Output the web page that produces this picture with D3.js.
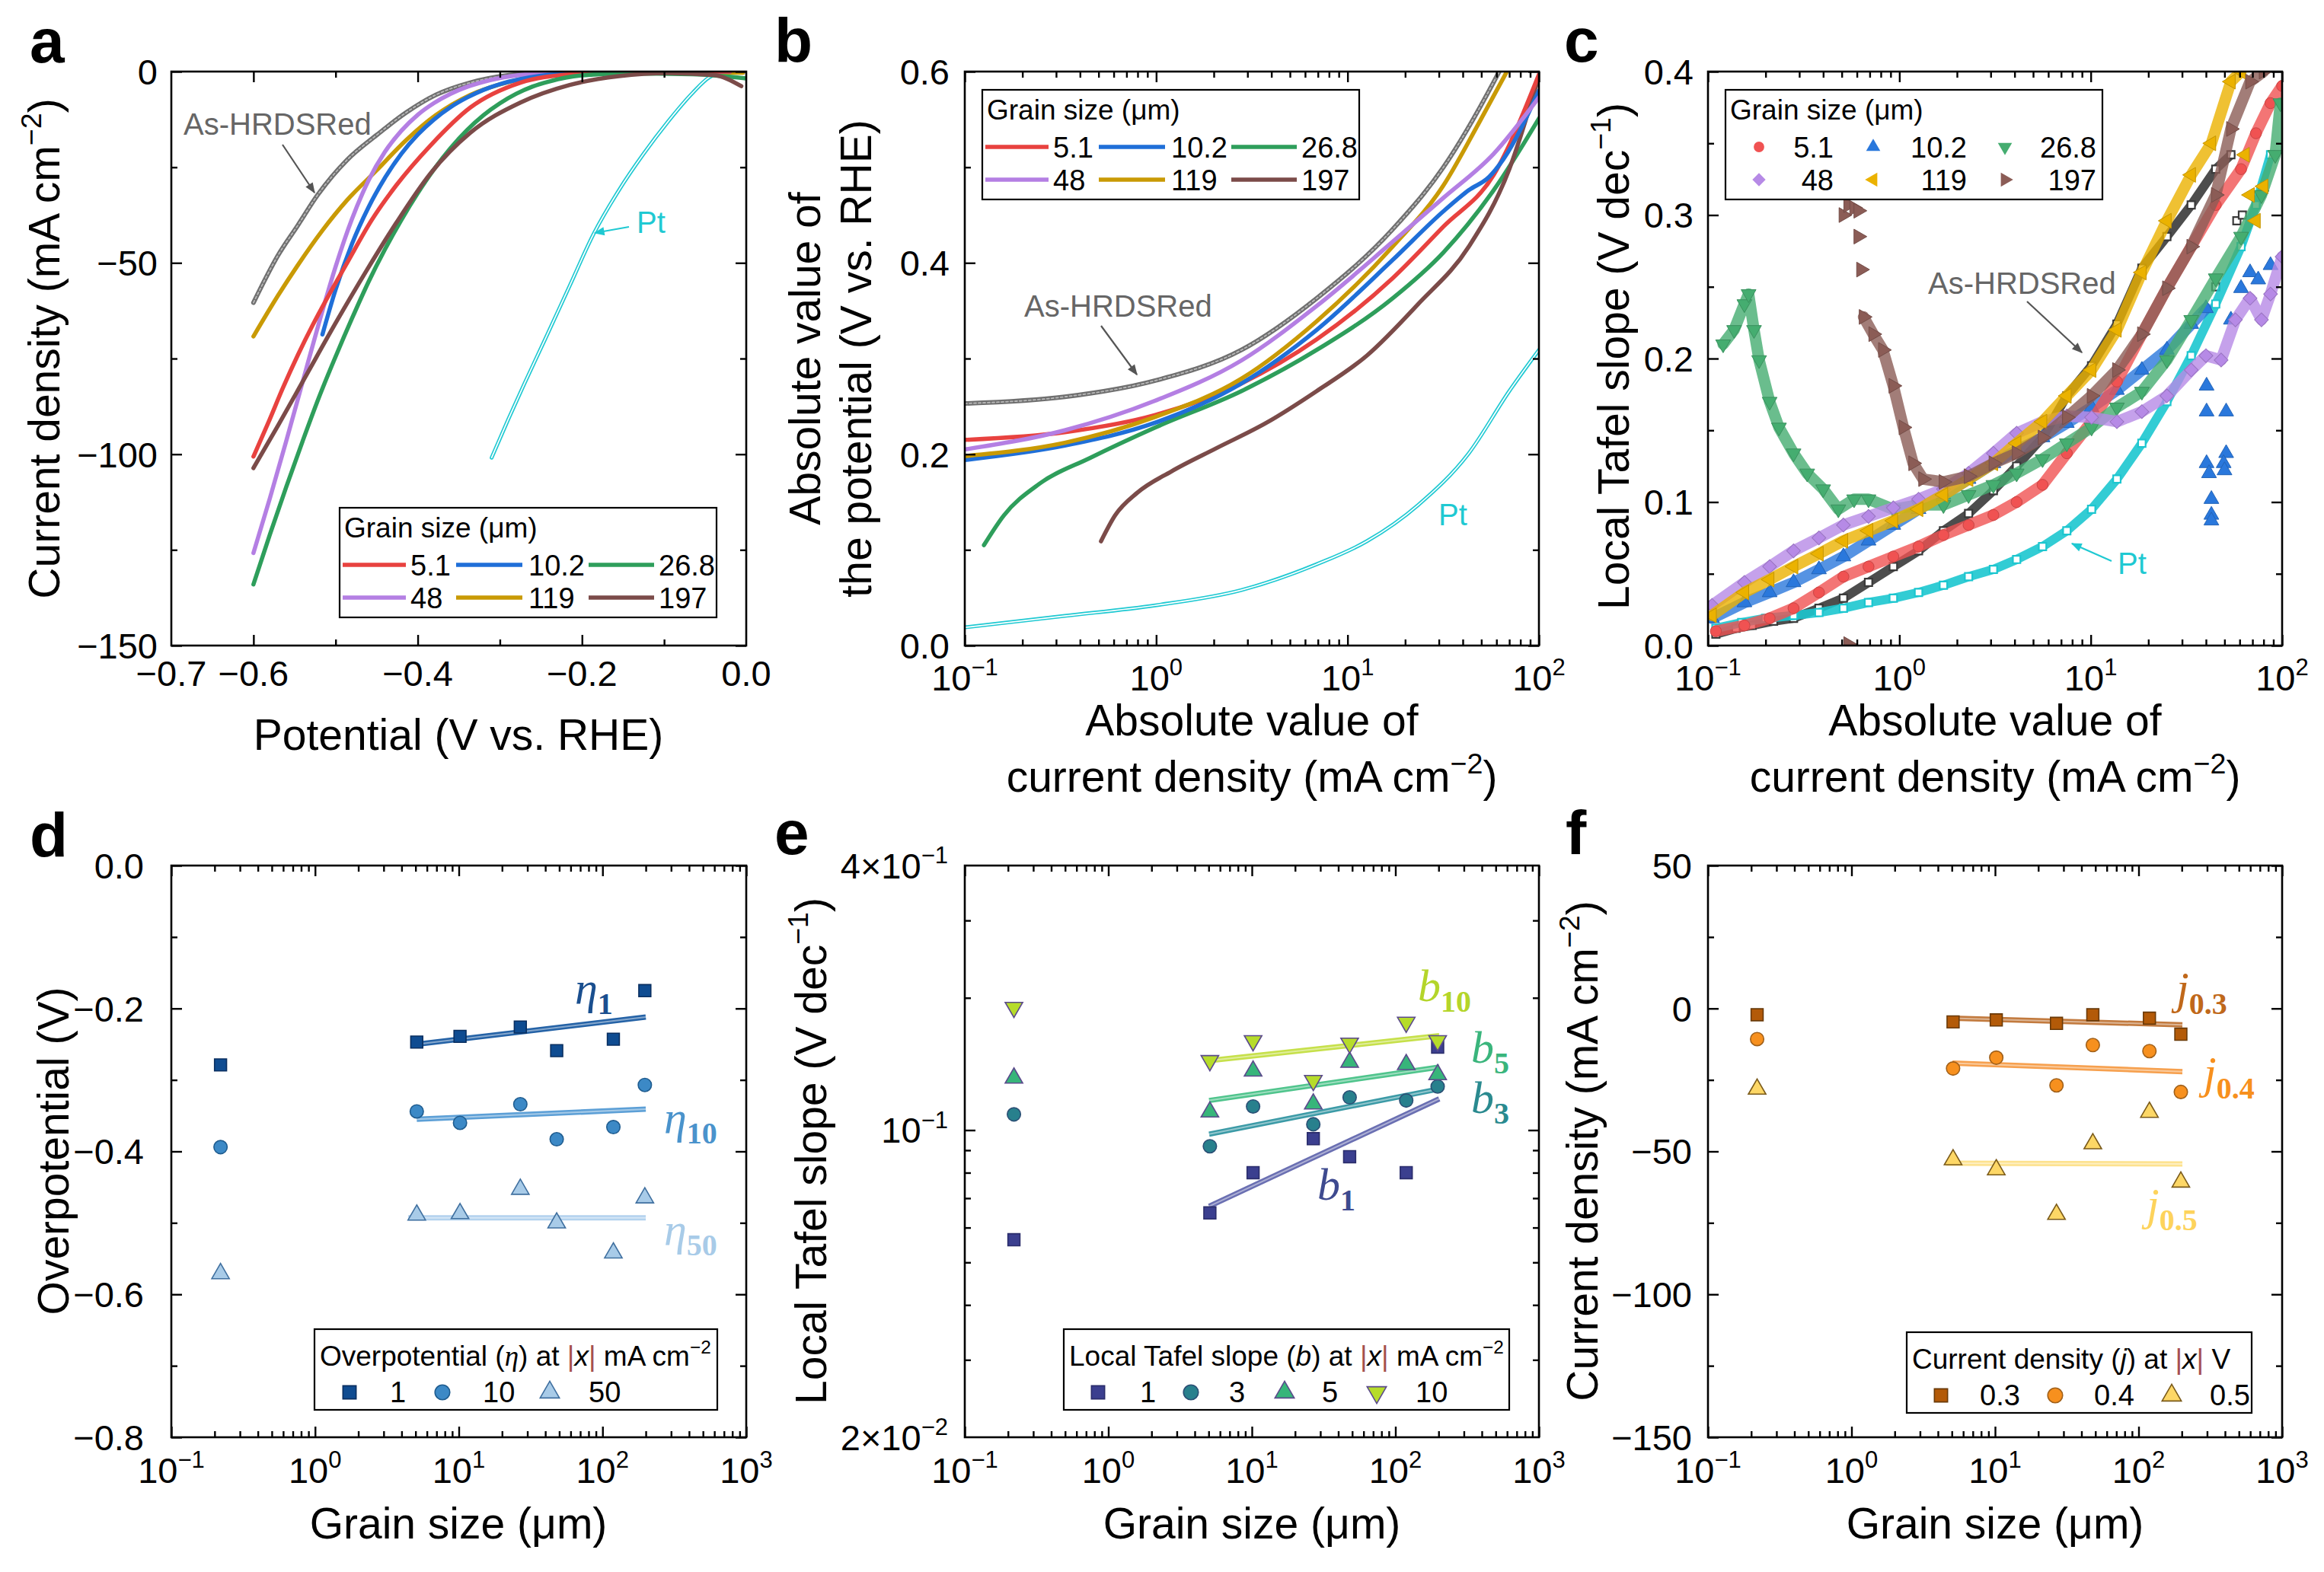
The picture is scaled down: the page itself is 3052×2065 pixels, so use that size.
<!DOCTYPE html>
<html>
<head>
<meta charset="utf-8">
<script src="https://cdn.jsdelivr.net/npm/d3@7"></script>
<style>
  body { margin: 0; background: #fff; }
  svg { display: block; }
</style>
</head>
<body>
<svg id="fig"></svg>
<script>
// ---------------- data ----------------
const grainLabels = ["5.1", "10.2", "26.8", "48", "119", "197"];

// (a) LSV: [potential (V vs. RHE), current density (mA cm-2)]
const lsvAs = [[-0.6,-60.4],[-0.57,-48],[-0.546,-40.2],[-0.522,-32.3],[-0.486,-23.1],[-0.45,-16.6],[-0.414,-10.7],[-0.378,-6.1],[-0.336,-2.9],[-0.287,-0.9],[-0.245,-0.3],[-0.185,0],[-0.05,0]];
const lsv51 = [[-0.6,-100.6],[-0.582,-91.8],[-0.564,-82.6],[-0.546,-74.1],[-0.528,-66.3],[-0.51,-59.1],[-0.486,-50],[-0.456,-38.8],[-0.426,-29.7],[-0.384,-19.2],[-0.336,-9.4],[-0.275,-2.9],[-0.215,-0.7],[-0.155,-0.1],[-0.02,0]];
const lsv102 = [[-0.516,-68.7],[-0.5,-57],[-0.48,-45],[-0.46,-35.5],[-0.44,-27.8],[-0.42,-21.5],[-0.4,-16.5],[-0.38,-12.5],[-0.36,-9.3],[-0.34,-6.8],[-0.32,-4.8],[-0.3,-3.3],[-0.275,-2],[-0.25,-1.1],[-0.215,-0.5],[-0.155,-0.1],[-0.02,0]];
const lsv268 = [[-0.6,-134],[-0.58,-121],[-0.56,-108.5],[-0.54,-96.5],[-0.52,-85],[-0.5,-74.5],[-0.48,-64.5],[-0.46,-55],[-0.44,-46.5],[-0.42,-38.8],[-0.4,-31.8],[-0.38,-25.5],[-0.36,-20],[-0.34,-15.3],[-0.32,-11.4],[-0.3,-8.3],[-0.28,-5.8],[-0.26,-3.9],[-0.24,-2.6],[-0.22,-1.6],[-0.2,-1],[-0.15,-0.5],[-0.065,-0.7],[0,-1.8]];
const lsv48 = [[-0.6,-125.8],[-0.58,-111.5],[-0.56,-96.5],[-0.54,-81],[-0.52,-65.5],[-0.5,-51],[-0.48,-38.5],[-0.46,-28.5],[-0.44,-21],[-0.42,-15.5],[-0.4,-11.3],[-0.38,-8.2],[-0.36,-5.8],[-0.34,-4],[-0.32,-2.7],[-0.3,-1.7],[-0.275,-0.9],[-0.25,-0.4],[-0.215,-0.1],[-0.02,0]];
const lsv119 = [[-0.6,-69.2],[-0.57,-58.5],[-0.546,-50.6],[-0.516,-41.5],[-0.486,-33.6],[-0.45,-25.8],[-0.414,-17.9],[-0.378,-11.4],[-0.336,-6.1],[-0.287,-2.6],[-0.245,-0.9],[-0.185,-0.3],[-0.004,-0.3]];
const lsv197 = [[-0.6,-103.6],[-0.57,-92.5],[-0.534,-78.7],[-0.498,-65],[-0.462,-51.9],[-0.426,-39.5],[-0.384,-26.5],[-0.336,-16],[-0.275,-8.1],[-0.215,-3.5],[-0.155,-1.2],[-0.095,-0.4],[-0.04,-0.9],[-0.006,-3.8]];
const lsvPt = [[-0.31,-100.9],[-0.29,-91],[-0.27,-81.5],[-0.245,-70],[-0.215,-56],[-0.186,-42.5],[-0.155,-31],[-0.125,-21.5],[-0.095,-13],[-0.065,-5.5],[-0.045,-1.5],[-0.03,-0.3],[-0.004,-0.3]];

// (b) Tafel plots: [|j| (mA cm-2), |E| (V vs. RHE)]
const tafAs = [[0.1,0.253],[0.333,0.26],[0.99,0.277],[2.79,0.309],[6.9,0.363],[17.2,0.435],[31.7,0.5],[58,0.589],[62,0.6]];
const taf51 = [[0.1,0.215],[0.333,0.223],[0.99,0.241],[2.79,0.274],[6.9,0.32],[17.2,0.384],[31.7,0.438],[58,0.492],[100,0.597]];
const taf102 = [[0.1,0.194],[0.333,0.209],[0.99,0.233],[2.79,0.274],[6.9,0.33],[17.2,0.403],[31.7,0.454],[43,0.476],[55,0.49],[65,0.508],[100,0.58]];
const taf268 = [[0.126,0.105],[0.16,0.136],[0.245,0.169],[0.45,0.196],[0.99,0.228],[2.79,0.266],[6.9,0.309],[17.2,0.363],[31.7,0.411],[58,0.476],[100,0.551]];
const taf48 = [[0.1,0.205],[0.333,0.225],[0.99,0.256],[2.79,0.298],[6.9,0.355],[17.2,0.422],[31.7,0.468],[58,0.514],[100,0.573]];
const taf119 = [[0.1,0.198],[0.333,0.212],[0.99,0.239],[2.79,0.279],[6.9,0.339],[17.2,0.417],[31.7,0.481],[48.5,0.546],[68,0.6]];
const taf197 = [[0.515,0.109],[0.61,0.136],[0.8,0.16],[1.2,0.182],[2.05,0.206],[3.78,0.233],[6.9,0.266],[12.6,0.303],[23.4,0.357],[43,0.417],[70,0.498],[100,0.595]];
const tafPt = [[0.1,0.019],[0.333,0.031],[0.99,0.042],[2.79,0.058],[6.9,0.085],[12.6,0.109],[23.4,0.147],[43,0.201],[70,0.266],[100,0.309]];

// (c) local Tafel slope: [|j| (mA cm-2), slope (V dec-1)]
const locAs = [[0.11,0.008],[0.14,0.012],[0.17,0.014],[0.22,0.017],[0.28,0.019],[0.38,0.026],[0.51,0.033],[0.69,0.044],[0.93,0.055],[1.26,0.066],[1.7,0.08],[2.3,0.092],[3.1,0.108],[4.1,0.125],[5.6,0.145],[7.5,0.174],[10.1,0.195],[13.7,0.224],[18.5,0.263],[25,0.285],[33.5,0.307],[45,0.332],[54,0.342]];
const locAsExtra = [[45,0.25],[58,0.296],[62,0.3]];
const locPt = [[0.11,0.012],[0.15,0.016],[0.2,0.019],[0.28,0.021],[0.38,0.023],[0.51,0.026],[0.69,0.03],[0.93,0.033],[1.26,0.037],[1.7,0.042],[2.3,0.048],[3.1,0.053],[4.1,0.06],[5.6,0.069],[7.5,0.08],[10.1,0.095],[13.7,0.116],[18.5,0.141],[25,0.17],[33.5,0.202],[45,0.238],[61,0.278],[73,0.307],[87,0.342]];
const loc51 = [[0.11,0.01],[0.155,0.014],[0.21,0.019],[0.28,0.026],[0.38,0.037],[0.51,0.048],[0.69,0.055],[0.93,0.062],[1.26,0.069],[1.7,0.077],[2.3,0.084],[3.1,0.091],[4.1,0.1],[5.6,0.112],[7.5,0.134],[10.1,0.156],[13.7,0.184],[18.5,0.217],[25,0.249],[33.5,0.278],[45,0.307],[61,0.332],[73,0.357],[87,0.378],[100,0.39]];
const loc102 = [[0.105,0.019],[0.155,0.03],[0.21,0.037],[0.28,0.044],[0.38,0.053],[0.51,0.062],[0.69,0.073],[0.93,0.084],[1.26,0.095],[1.7,0.105],[2.3,0.116],[3.1,0.127],[4.1,0.136],[5.6,0.145],[7.5,0.155],[10.1,0.166],[13.7,0.178],[18.5,0.192],[25,0.206],[33.5,0.224],[40,0.235]];
const loc102Extra = [[40.3,0.181],[40.3,0.163],[40.3,0.127],[41.5,0.12],[42.7,0.102],[42.7,0.091],[42.7,0.087],[51,0.163],[51,0.134],[49.5,0.127],[50,0.122],[54,0.227],[61,0.249],[68,0.26],[75,0.255],[87,0.265]];
const loc268 = [[0.12,0.21],[0.137,0.22],[0.155,0.238],[0.163,0.245],[0.174,0.22],[0.185,0.199],[0.21,0.17],[0.235,0.152],[0.28,0.134],[0.33,0.12],[0.4,0.109],[0.48,0.095],[0.58,0.102],[0.69,0.102],[0.93,0.095],[1.26,0.098],[1.7,0.098],[2.3,0.105],[3.1,0.112],[4.1,0.12],[5.6,0.13],[7.5,0.141],[10.1,0.152],[13.7,0.166],[18.5,0.177],[25,0.199],[33.5,0.227],[45,0.256],[61,0.285],[78,0.314],[92,0.342],[98,0.378]];
const loc48 = [[0.105,0.028],[0.155,0.044],[0.21,0.055],[0.28,0.066],[0.38,0.075],[0.51,0.084],[0.69,0.09],[0.93,0.096],[1.26,0.102],[1.7,0.109],[2.3,0.12],[3.1,0.134],[4.1,0.148],[5.6,0.156],[7.5,0.16],[10.1,0.159],[13.7,0.156],[18.5,0.163],[25,0.174],[33.5,0.192],[40,0.202],[48,0.199],[57,0.227],[68,0.242],[78,0.227],[87,0.245],[100,0.271]];
const loc119 = [[0.105,0.021],[0.155,0.037],[0.21,0.046],[0.28,0.055],[0.38,0.064],[0.51,0.073],[0.69,0.08],[0.93,0.087],[1.26,0.095],[1.7,0.105],[2.3,0.116],[3.1,0.127],[4.1,0.141],[5.6,0.156],[7.5,0.174],[10.1,0.192],[13.7,0.22],[18.5,0.26],[25,0.296],[33.5,0.328],[42.7,0.35],[54,0.393],[61,0.4]];
const loc119Extra = [[64,0.342],[68,0.314],[73,0.296],[80,0.32]];
const loc197 = [[0.65,0.229],[0.73,0.217],[0.82,0.206],[0.93,0.181],[1.05,0.152],[1.18,0.127],[1.33,0.116],[1.7,0.114],[2.3,0.118],[3.1,0.127],[4.1,0.134],[5.6,0.145],[7.5,0.159],[10.1,0.174],[13.7,0.192],[18.5,0.217],[25,0.249],[33.5,0.278],[45,0.314],[54,0.36],[68,0.393],[80,0.4]];
const loc197Extra = [[0.51,0.3],[0.54,0.307],[0.58,0.305],[0.61,0.303],[0.61,0.285],[0.63,0.262],[0.54,0.001]];

// (d)-(f): first entry is As-HRDSRed
const grainSize = [0.22, 5.1, 10.2, 26.8, 48, 119, 197];
const eta1  = [-0.279, -0.247, -0.239, -0.226, -0.259, -0.243, -0.175];
const eta10 = [-0.394, -0.344, -0.360, -0.334, -0.383, -0.366, -0.307];
const eta50 = [-0.571, -0.489, -0.487, -0.453, -0.500, -0.542, -0.465];
const etaFit1  = [[5.1, -0.250], [200, -0.212]];
const etaFit10 = [[5.1, -0.355], [200, -0.341]];
const etaFit50 = [[4.45, -0.493], [200, -0.493]];

const slope1  = [0.0563, 0.0648, 0.0800, 0.0956, 0.0870, 0.0800, 0.1544];
const slope3  = [0.1086, 0.0919, 0.1132, 0.1031, 0.1187, 0.1168, 0.1257];
const slope5  = [0.1314, 0.1100, 0.1363, 0.1147, 0.1428, 0.1410, 0.1338];
const slope10 = [0.1902, 0.1439, 0.1597, 0.1297, 0.1577, 0.1759, 0.1597];
const slopeFit1  = [[5.04, 0.0671], [202, 0.1178]];
const slopeFit3  = [[5.04, 0.0979], [202, 0.1241]];
const slopeFit5  = [[5.04, 0.1168], [202, 0.1391]];
const slopeFit10 = [[5.04, 0.1439], [202, 0.1640]];

const jAt03 = [-2.2, -4.7, -4.0, -5.2, -2.2, -3.4, -9.0];
const jAt04 = [-10.7, -21.0, -17.2, -26.9, -12.8, -14.9, -29.2];
const jAt05 = [-28.2, -52.9, -56.4, -72.0, -47.3, -36.3, -60.7];
const jFit03 = [[5.05, -3.4], [202, -5.7]];
const jFit04 = [[5.05, -19.1], [202, -22.1]];
const jFit05 = [[4.55, -54.1], [202, -54.4]];

// axis ticks
const aXLabels = [-0.7, -0.6, -0.4, -0.2, 0];
const aXMajor = [-0.6, -0.4, -0.2];
const aXMinor = [-0.5, -0.3, -0.1];
const aYLabels = [0, -50, -100, -150];
const aYMinor = [-25, -75, -125];
const bYLabels = [0, 0.2, 0.4, 0.6];
const bYMinor = [0.1, 0.3, 0.5];
const cYLabels = [0, 0.1, 0.2, 0.3, 0.4];
const cYMinor = [0.05, 0.15, 0.25, 0.35];
const dYLabels = [0, -0.2, -0.4, -0.6, -0.8];
const dYMinor = [-0.1, -0.3, -0.5, -0.7];
const eYLabels = [0.02, 0.1, 0.4];
const eYMinor = [0.03, 0.04, 0.05, 0.06, 0.07, 0.08, 0.09, 0.2, 0.3];
const fYLabels = [50, 0, -50, -100, -150];
const fYMinor = [25, -25, -75, -125];

// ---------------- drawing ----------------
const SANS = "'Liberation Sans', Arial, Helvetica, sans-serif";
const SERIF = "'Liberation Serif', 'DejaVu Serif', serif";
const TICK_FS = 47, TITLE_FS = 57, LEG_FS = 37;

const C = {
  red: "#e8423f", blue: "#1f6fd8", green: "#2e9e5b", purple: "#b47fe3",
  gold: "#c99a05", brown: "#7b4b49", gray: "#6f6f6f", cyan: "#1fc9d2"
};

const svg = d3.select("#fig").attr("width", 3052).attr("height", 2065).attr("font-family", SANS);
svg.append("rect").attr("width", 3052).attr("height", 2065).attr("fill", "#fff");
const defs = svg.append("defs");
[["arrGray", "#555"], ["arrCyan", C.cyan]].forEach(([id, c]) => {
  defs.append("marker").attr("id", id).attr("viewBox", "0 0 10 10")
    .attr("refX", 9).attr("refY", 5).attr("markerWidth", 17).attr("markerHeight", 14)
    .attr("markerUnits", "userSpaceOnUse").attr("orient", "auto")
    .append("path").attr("d", "M0,1 L10,5 L0,9 z").attr("fill", c);
});

const cols = [[225, 980], [1267, 2021], [2243, 2997]];
const rows = [[94, 848], [1137, 1888]];
const minus = s => String(s).replace(/-/g, "\u2212");

function rich(text, parts, fs) {
  let shift = 0;
  parts.forEach(p => {
    const ts = text.append("tspan").text(p.t);
    const target = p.sup ? -0.42 * fs : p.sub ? 0.24 * fs : 0;
    if (target !== shift) ts.attr("dy", target - shift);
    shift = target;
    if (p.size) ts.attr("font-size", p.size);
    else if (p.sup || p.sub) ts.attr("font-size", 0.66 * fs);
    if (p.it) ts.attr("font-style", "italic");
    if (p.fill) ts.attr("fill", p.fill);
    if (p.fam) ts.attr("font-family", p.fam);
    if (p.bold) ts.attr("font-weight", "bold");
  });
  return text;
}

function makePanel(id, col, row, x, y) {
  const [x0, x1] = cols[col], [y0, y1] = rows[row];
  x.range([x0, x1]);
  y.range([y1, y0]);
  const g = svg.append("g");
  defs.append("clipPath").attr("id", "clip-" + id).append("rect")
    .attr("x", x0).attr("y", y0).attr("width", x1 - x0).attr("height", y1 - y0);
  const plot = g.append("g").attr("clip-path", `url(#clip-${id})`);
  return { x, y, g, plot, x0, x1, y0, y1 };
}

function frame(p, xMaj, xMin, yMaj, yMin) {
  const put = (axis, tr) => p.g.append("g").attr("transform", tr).call(axis)
    .call(s => {
      s.select(".domain").remove();
      s.selectAll("line").attr("stroke", "#000").attr("stroke-width", 2.4);
    });
  [[xMaj, 14], [xMin, 8]].forEach(([v, L]) => {
    put(d3.axisBottom(p.x).tickValues(v).tickSize(-L).tickFormat(""), `translate(0,${p.y1})`);
    put(d3.axisTop(p.x).tickValues(v).tickSize(-L).tickFormat(""), `translate(0,${p.y0})`);
  });
  [[yMaj, 14], [yMin, 8]].forEach(([v, L]) => {
    put(d3.axisLeft(p.y).tickValues(v).tickSize(-L).tickFormat(""), `translate(${p.x0},0)`);
    put(d3.axisRight(p.y).tickValues(v).tickSize(-L).tickFormat(""), `translate(${p.x1},0)`);
  });
  p.g.append("rect").attr("x", p.x0).attr("y", p.y0)
    .attr("width", p.x1 - p.x0).attr("height", p.y1 - p.y0)
    .attr("fill", "none").attr("stroke", "#000").attr("stroke-width", 2.6);
}

const fmtLin = d => v => [{ t: minus(d3.format(d)(v)) }];
const fmtLog = v => {
  const e = Math.floor(Math.log10(v) + 1e-9);
  const m = Math.round(v / Math.pow(10, e));
  return [{ t: (m === 1 ? "" : m + "\u00d7") + "10" }, { t: minus(e), sup: true }];
};
function xTickLabels(p, vals, fmt, dy) {
  vals.forEach(v => rich(p.g.append("text").attr("x", p.x(v)).attr("y", p.y1 + dy)
    .attr("text-anchor", "middle").attr("font-size", TICK_FS), fmt(v), TICK_FS));
}
function yTickLabels(p, vals, fmt, gap) {
  vals.forEach(v => rich(p.g.append("text").attr("x", p.x0 - gap).attr("y", p.y(v) + 0.36 * TICK_FS)
    .attr("text-anchor", "end").attr("font-size", TICK_FS), fmt(v), TICK_FS));
}
function logTicks(lo, hi) {
  const maj = [], min = [];
  for (let e = lo; e <= hi; e++) {
    maj.push(Math.pow(10, e));
    if (e < hi) for (let k = 2; k < 10; k++) min.push(k * Math.pow(10, e));
  }
  return [maj, min];
}
function yTitle(x, yc, lines) {
  lines.forEach((parts, i) => rich(svg.append("text")
    .attr("transform", `translate(${x[i]},${yc}) rotate(-90)`)
    .attr("text-anchor", "middle").attr("font-size", TITLE_FS), parts, TITLE_FS));
}
function xTitle(xc, ys, lines) {
  lines.forEach((parts, i) => rich(svg.append("text").attr("x", xc).attr("y", ys[i])
    .attr("text-anchor", "middle").attr("font-size", TITLE_FS), parts, TITLE_FS));
}
function panelLetter(t, x, y) {
  svg.append("text").attr("x", x).attr("y", y).attr("font-size", 82)
    .attr("font-weight", "bold").text(t);
}
function note(t, x, y, color) {
  svg.append("text").attr("x", x).attr("y", y).attr("font-size", 40).attr("fill", color).text(t);
}
function arrow(x1, y1, x2, y2, color, id) {
  svg.append("line").attr("x1", x1).attr("y1", y1).attr("x2", x2).attr("y2", y2)
    .attr("stroke", color).attr("stroke-width", 2.2).attr("marker-end", `url(#${id})`);
}

// curves for (a) and (b)
function curve(p, data, color, kind) {
  const line = d3.line().x(d => p.x(d[0])).y(d => p.y(d[1])).curve(d3.curveMonotoneX);
  const path = (c, w) => p.plot.append("path").datum(data).attr("d", line)
    .attr("fill", "none").attr("stroke", c).attr("stroke-width", w)
    .attr("stroke-linejoin", "round").attr("stroke-linecap", "round");
  if (kind === "pt") { path(color, 5); path("#fff", 1.7); }
  else if (kind === "as") { path(color, 6); path("#b9b9b9", 1.8).attr("stroke-dasharray", "3 3"); }
  else path(color, 5.5);
}

// marker shapes
const SHAPES = {
  square: [d3.symbolSquare, 0], circle: [d3.symbolCircle, 0], up: [d3.symbolTriangle, 0],
  down: [d3.symbolTriangle, 180], left: [d3.symbolTriangle, -90], right: [d3.symbolTriangle, 90],
  diamond: [d3.symbolSquare, 45]
};
function mark(sel, shape, size, x, y) {
  const [t, rot] = SHAPES[shape];
  return sel.append("path").attr("d", d3.symbol(t, size)())
    .attr("transform", `translate(${x},${y}) rotate(${rot})`);
}

// ======== (a) ========
const pa = makePanel("a", 0, 0, d3.scaleLinear().domain([-0.7, 0]), d3.scaleLinear().domain([-150, 0]));
curve(pa, lsvAs, C.gray, "as");
curve(pa, lsvPt, C.cyan, "pt");
curve(pa, lsv119, C.gold);
curve(pa, lsv48, C.purple);
curve(pa, lsv102, C.blue);
curve(pa, lsv51, C.red);
curve(pa, lsv268, C.green);
curve(pa, lsv197, C.brown);
frame(pa, aXMajor, aXMinor, aYLabels, aYMinor);
xTickLabels(pa, aXLabels, fmtLin(".1f"), 53);
yTickLabels(pa, aYLabels, fmtLin("d"), 18);
xTitle(602, [985], [[{ t: "Potential (V vs. RHE)" }]]);
yTitle([78], 458, [[{ t: "Current density (mA cm" }, { t: "\u22122", sup: true }, { t: ")" }]]);
note("As-HRDSRed", 241, 177, "#666");
arrow(371, 190, 413, 253, "#555", "arrGray");
note("Pt", 836, 306, C.cyan);
arrow(826, 298, 781, 306, C.cyan, "arrCyan");

function lineLegend(x0, y0, colors) {
  const g = svg.append("g");
  g.append("rect").attr("x", x0).attr("y", y0).attr("width", 495).attr("height", 144)
    .attr("fill", "#fff").attr("stroke", "#000").attr("stroke-width", 2.2);
  g.append("text").attr("x", x0 + 6).attr("y", y0 + 39).attr("font-size", LEG_FS).text("Grain size (\u03bcm)");
  const cx = [[4, 87, 93], [153, 240, 248], [327, 413, 419]];
  grainLabels.forEach((lab, i) => {
    const r = Math.floor(i / 3), c = i % 3, yy = y0 + 75 + r * 43;
    g.append("line").attr("x1", x0 + cx[c][0]).attr("x2", x0 + cx[c][1]).attr("y1", yy).attr("y2", yy)
      .attr("stroke", colors[i]).attr("stroke-width", 5.5);
    g.append("text").attr("x", x0 + cx[c][2]).attr("y", yy + 14).attr("font-size", 38).text(lab);
  });
}
const lineColors = [C.red, C.blue, C.green, C.purple, C.gold, C.brown];
lineLegend(446, 667, lineColors);

// ======== (b) ========
const pb = makePanel("b", 1, 0, d3.scaleLog().domain([0.1, 100]), d3.scaleLinear().domain([0, 0.6]));
curve(pb, tafPt, C.cyan, "pt");
curve(pb, tafAs, C.gray, "as");
curve(pb, taf268, C.green);
curve(pb, taf197, C.brown);
curve(pb, taf51, C.red);
curve(pb, taf102, C.blue);
curve(pb, taf119, C.gold);
curve(pb, taf48, C.purple);
const [bMaj, bMin] = logTicks(-1, 2);
frame(pb, bMaj, bMin, bYLabels, bYMinor);
xTickLabels(pb, bMaj, fmtLog, 59);
yTickLabels(pb, bYLabels, fmtLin(".1f"), 20);
const twoLineX = [[{ t: "Absolute value of" }], [{ t: "current density (mA cm" }, { t: "\u22122", sup: true }, { t: ")" }]];
xTitle(1644, [966, 1040], twoLineX);
yTitle([1077, 1144], 471, [[{ t: "Absolute value of" }], [{ t: "the potential (V vs. RHE)" }]]);
note("As-HRDSRed", 1345, 416, "#666");
arrow(1446, 428, 1493, 492, "#555", "arrGray");
note("Pt", 1889, 690, C.cyan);
lineLegend(1290, 118, lineColors);

// ======== (c) ========
const pc = makePanel("c", 2, 0, d3.scaleLog().domain([0.1, 100]), d3.scaleLinear().domain([0, 0.4]));
const CC = { red: "#f05252", blue: "#2a78dc", green: "#45ad70", purple: "#b68ae6", gold: "#ebb200", brown: "#8b5c56", as: "#3a3a3a", pt: "#1cc6cf" };
function slopeSeries(p, main, extra, color, shape, hollow) {
  const line = d3.line().x(d => p.x(d[0])).y(d => p.y(d[1]));
  p.plot.append("path").datum(main).attr("d", line).attr("fill", "none")
    .attr("stroke", color).attr("stroke-opacity", hollow ? 0.9 : 0.8).attr("stroke-width", hollow ? 12 : 15)
    .attr("stroke-linejoin", "round").attr("stroke-linecap", "round");
  const g = p.plot.append("g");
  main.concat(extra).forEach(d => {
    mark(g, shape, hollow ? 95 : 165, p.x(d[0]), p.y(d[1]))
      .attr("fill", hollow ? "#fff" : color)
      .attr("stroke", hollow ? color : d3.color(color).darker(0.5))
      .attr("stroke-width", hollow ? 2.2 : 1);
  });
}
slopeSeries(pc, locAs, locAsExtra, CC.as, "square", true);
slopeSeries(pc, locPt, [], CC.pt, "square", true);
slopeSeries(pc, loc102, loc102Extra, CC.blue, "up");
slopeSeries(pc, loc51, [], CC.red, "circle");
slopeSeries(pc, loc268, [], CC.green, "down");
slopeSeries(pc, loc48, [], CC.purple, "diamond");
slopeSeries(pc, loc119, loc119Extra, CC.gold, "left");
slopeSeries(pc, loc197, loc197Extra, CC.brown, "right");
frame(pc, bMaj, bMin, cYLabels, cYMinor);
xTickLabels(pc, bMaj, fmtLog, 59);
yTickLabels(pc, cYLabels, fmtLin(".1f"), 19);
xTitle(2620, [966, 1040], twoLineX);
yTitle([2139], 468, [[{ t: "Local Tafel slope (V dec" }, { t: "\u22121", sup: true }, { t: ")" }]]);
note("As-HRDSRed", 2532, 386, "#666");
arrow(2662, 396, 2734, 463, "#555", "arrGray");
note("Pt", 2781, 754, C.cyan);
arrow(2773, 737, 2721, 714, C.cyan, "arrCyan");
(function () {
  const x0 = 2266, y0 = 118, g = svg.append("g");
  g.append("rect").attr("x", x0).attr("y", y0).attr("width", 495).attr("height", 144)
    .attr("fill", "#fff").attr("stroke", "#000").attr("stroke-width", 2.2);
  g.append("text").attr("x", x0 + 6).attr("y", y0 + 39).attr("font-size", LEG_FS).text("Grain size (\u03bcm)");
  const shapes = ["circle", "up", "down", "diamond", "left", "right"];
  const colors = [CC.red, CC.blue, CC.green, CC.purple, CC.gold, CC.brown];
  const mx = [44, 194, 367], lx = [142, 317, 487];
  grainLabels.forEach((lab, i) => {
    const r = Math.floor(i / 3), c = i % 3, yy = y0 + 75 + r * 43;
    mark(g, shapes[i], 150, x0 + mx[c], yy).attr("fill", colors[i]);
    g.append("text").attr("x", x0 + lx[c]).attr("y", yy + 14).attr("text-anchor", "end")
      .attr("font-size", 38).text(lab);
  });
})();

// ======== (d)-(f) helpers ========
function points(p, ys, shape, size, fill, stroke) {
  const g = p.plot.append("g");
  grainSize.forEach((gs, i) => mark(g, shape, size, p.x(gs), p.y(ys[i]))
    .attr("fill", fill).attr("stroke", stroke).attr("stroke-width", 1.6));
}
function fit(p, pts, color) {
  const line = d3.line().x(d => p.x(d[0])).y(d => p.y(d[1]));
  p.plot.append("path").datum(pts).attr("d", line).attr("stroke", color).attr("stroke-width", 7).attr("fill", "none");
  p.plot.append("path").datum(pts).attr("d", line).attr("stroke", "#fff").attr("stroke-opacity", 0.45)
    .attr("stroke-width", 2).attr("fill", "none");
}
function subLabel(x, y, sym, sub, color) {
  rich(svg.append("text").attr("x", x).attr("y", y).attr("font-size", 60).attr("fill", color)
    .attr("font-family", SERIF),
    [{ t: sym, it: true }, { t: sub, sub: true, bold: true, size: 40 }], 60);
}
function markLegend(x0, y0, w, title, items) {
  const g = svg.append("g");
  g.append("rect").attr("x", x0).attr("y", y0).attr("width", w).attr("height", 106)
    .attr("fill", "#fff").attr("stroke", "#000").attr("stroke-width", 2.2);
  rich(g.append("text").attr("x", x0 + 7).attr("y", y0 + 48).attr("font-size", LEG_FS), title, LEG_FS);
  items.forEach(it => {
    mark(g, it.shape, it.size, it.mx, y0 + 83).attr("fill", it.fill).attr("stroke", it.stroke).attr("stroke-width", 1.6);
    g.append("text").attr("x", it.lx).attr("y", y0 + 96).attr("font-size", 38).text(it.label);
  });
}
const bar = { t: "|", fill: "#a5504f" };
const [gMaj, gMin] = logTicks(-1, 3);

// ======== (d) ========
const pd = makePanel("d", 0, 1, d3.scaleLog().domain([0.1, 1000]), d3.scaleLinear().domain([-0.8, 0]));
const D = { c1: "#0f4c91", s1: "#0a2f60", c10: "#3c89c6", s10: "#1f5c8f", c50: "#a8cbe8", s50: "#3f6f9f" };
fit(pd, etaFit1, "#2462a6");
fit(pd, etaFit10, "#5c9fd6");
fit(pd, etaFit50, "#b3d2ee");
points(pd, eta1, "square", 250, D.c1, D.s1);
points(pd, eta10, "circle", 240, D.c10, D.s10);
points(pd, eta50, "up", 230, D.c50, D.s50);
frame(pd, gMaj, gMin, dYLabels, dYMinor);
xTickLabels(pd, gMaj, fmtLog, 60);
yTickLabels(pd, dYLabels, fmtLin(".1f"), 36);
xTitle(602, [2021], [[{ t: "Grain size (\u03bcm)" }]]);
yTitle([90], 1512, [[{ t: "Overpotential (V)" }]]);
subLabel(755, 1318, "\u03b7", "1", "#1a4f8f");
subLabel(872, 1488, "\u03b7", "10", "#4a93cc");
subLabel(872, 1635, "\u03b7", "50", "#a8cbe8");
markLegend(413, 1746, 529,
  [{ t: "Overpotential (" }, { t: "\u03b7", it: true, fam: SERIF }, { t: ") at " }, bar, { t: "x", it: true }, bar,
   { t: " mA cm" }, { t: "\u22122", sup: true }],
  [{ shape: "square", size: 300, fill: D.c1, stroke: D.s1, mx: 459, lx: 512, label: "1" },
   { shape: "circle", size: 300, fill: D.c10, stroke: D.s10, mx: 581, lx: 634, label: "10" },
   { shape: "up", size: 280, fill: D.c50, stroke: D.s50, mx: 722, lx: 773, label: "50" }]);

// ======== (e) ========
const pe = makePanel("e", 1, 1, d3.scaleLog().domain([0.1, 1000]), d3.scaleLog().domain([0.02, 0.4]));
const E = { c1: "#3b3f8f", c3: "#28808d", c5: "#37b57a", c10: "#b6dc2a", st: "#5b4a8c" };
fit(pe, slopeFit1, "#6a6fb2");
fit(pe, slopeFit3, "#3b9aa6");
fit(pe, slopeFit5, "#4fc48c");
fit(pe, slopeFit10, "#c6e04a");
points(pe, slope1, "square", 250, E.c1, "#2b2d6b");
points(pe, slope3, "circle", 240, E.c3, "#2b4f75");
points(pe, slope5, "up", 230, E.c5, E.st);
points(pe, slope10, "down", 230, E.c10, E.st);
frame(pe, gMaj, gMin, [0.1], eYMinor);
xTickLabels(pe, gMaj, fmtLog, 60);
yTickLabels(pe, eYLabels, fmtLog, 22);
xTitle(1644, [2021], [[{ t: "Grain size (\u03bcm)" }]]);
yTitle([1085], 1512, [[{ t: "Local Tafel slope (V dec" }, { t: "\u22121", sup: true }, { t: ")" }]]);
subLabel(1862, 1315, "b", "10", "#b4d52a");
subLabel(1932, 1396, "b", "5", "#3ab57c");
subLabel(1932, 1462, "b", "3", "#2a8a8f");
subLabel(1730, 1576, "b", "1", "#3e4a8f");
markLegend(1397, 1746, 585,
  [{ t: "Local Tafel slope (" }, { t: "b", it: true }, { t: ") at " }, bar, { t: "x", it: true }, bar,
   { t: " mA cm" }, { t: "\u22122", sup: true }],
  [{ shape: "square", size: 300, fill: E.c1, stroke: "#2b2d6b", mx: 1442, lx: 1497, label: "1" },
   { shape: "circle", size: 300, fill: E.c3, stroke: "#2b4f75", mx: 1564, lx: 1614, label: "3" },
   { shape: "up", size: 280, fill: E.c5, stroke: E.st, mx: 1687, lx: 1736, label: "5" },
   { shape: "down", size: 280, fill: E.c10, stroke: E.st, mx: 1808, lx: 1859, label: "10" }]);

// ======== (f) ========
const pf = makePanel("f", 2, 1, d3.scaleLog().domain([0.1, 1000]), d3.scaleLinear().domain([-150, 50]));
const Fc = { c3: "#b35a08", c4: "#f7901e", c5: "#fdd766", st: "#6a3a08" };
fit(pf, jFit03, "#c27a3e");
fit(pf, jFit04, "#f6a04e");
fit(pf, jFit05, "#fde28e");
points(pf, jAt03, "square", 250, Fc.c3, Fc.st);
points(pf, jAt04, "circle", 240, Fc.c4, "#a0601a");
points(pf, jAt05, "up", 230, Fc.c5, "#7a5a1a");
frame(pf, gMaj, gMin, fYLabels, fYMinor);
xTickLabels(pf, gMaj, fmtLog, 60);
yTickLabels(pf, fYLabels, fmtLin("d"), 21);
xTitle(2620, [2021], [[{ t: "Grain size (\u03bcm)" }]]);
yTitle([2098], 1512, [[{ t: "Current density (mA cm" }, { t: "\u22122", sup: true }, { t: ")" }]]);
subLabel(2858, 1318, "j", "0.3", "#c0681a");
subLabel(2894, 1429, "j", "0.4", "#f7901e");
subLabel(2819, 1602, "j", "0.5", "#fdd35c");
markLegend(2504, 1750, 453,
  [{ t: "Current density (" }, { t: "j", it: true }, { t: ") at " }, bar, { t: "x", it: true }, bar, { t: " V" }],
  [{ shape: "square", size: 300, fill: Fc.c3, stroke: Fc.st, mx: 2549, lx: 2600, label: "0.3" },
   { shape: "circle", size: 300, fill: Fc.c4, stroke: "#a0601a", mx: 2699, lx: 2750, label: "0.4" },
   { shape: "up", size: 280, fill: Fc.c5, stroke: "#7a5a1a", mx: 2852, lx: 2902, label: "0.5" }]);

// panel letters
panelLetter("a", 39, 82);
panelLetter("b", 1017, 81);
panelLetter("c", 2054, 81);
panelLetter("d", 39, 1125);
panelLetter("e", 1017, 1122);
panelLetter("f", 2056, 1122);
</script>
</body>
</html>
